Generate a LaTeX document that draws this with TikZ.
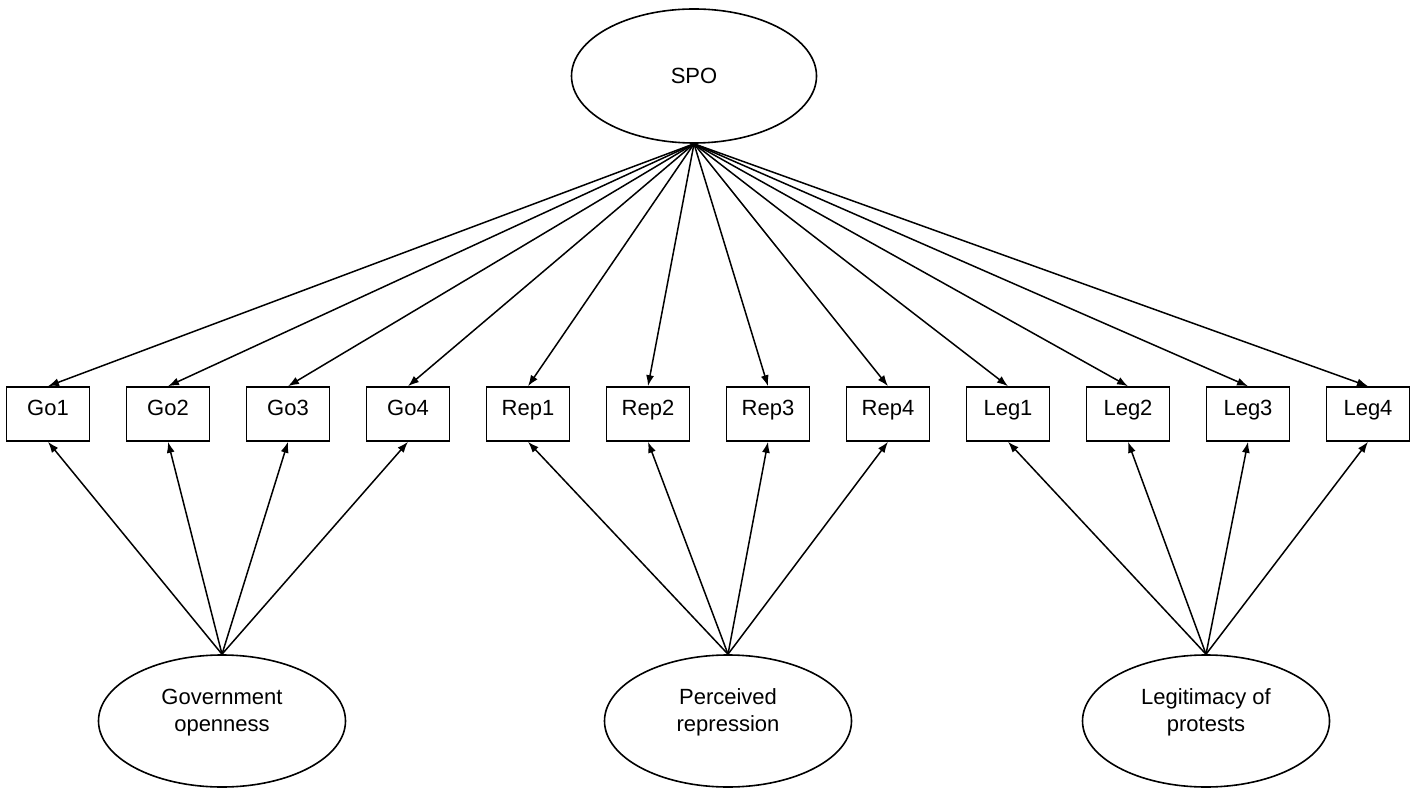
\documentclass[tikz,border=0pt]{standalone}
\usepackage{fontspec}
\setmainfont{Liberation Sans}
\usepackage{tikz}
\usetikzlibrary{shapes.geometric}
\usetikzlibrary{arrows.meta}
\tikzstyle{latent}=[draw, ellipse, line width=0.8pt, inner sep=0, minimum width=123.5pt, minimum height=66pt, align=center, text depth=11pt]
\tikzstyle{spo}=[latent, minimum width=122.5pt, minimum height=67pt, text depth=0pt]
\tikzstyle{indicator}=[draw, rectangle, line width=0.8pt, inner sep=0, minimum width=41.5pt, minimum height=27pt, text height=8pt, text depth=6pt]
\tikzstyle{loading}=[line width=0.75pt, -{Latex[length=5.5pt, width=4pt]}]
\tikzstyle{semnetwork}=[x=0.5pt, y=-0.5pt,
                        % Same text size everywhere.
                        every node/.style={font=\fontsize{11}{13.5}\selectfont}]

\begin{document}
\begin{tikzpicture}[semnetwork]
        \useasboundingbox (0, 0) rectangle (1417, 801);
        \node[spo] (SPO) at (694, 76) {SPO};
        % Indicators.
        \node[indicator] (Go1) at (48, 414) {Go1};
        \node[indicator] (Go2) at (168, 414) {Go2};
        \node[indicator] (Go3) at (288, 414) {Go3};
        \node[indicator] (Go4) at (408, 414) {Go4};
        \node[indicator] (Rep1) at (528, 414) {Rep1};
        \node[indicator] (Rep2) at (648, 414) {Rep2};
        \node[indicator] (Rep3) at (768, 414) {Rep3};
        \node[indicator] (Rep4) at (888, 414) {Rep4};
        \node[indicator] (Leg1) at (1008, 414) {Leg1};
        \node[indicator] (Leg2) at (1128, 414) {Leg2};
        \node[indicator] (Leg3) at (1248, 414) {Leg3};
        \node[indicator] (Leg4) at (1368, 414) {Leg4};
        % Factors.
        \node[latent] (Gov) at (222, 721) {Government\\openness};
        \node[latent] (Rep) at (728, 721) {Perceived\\repression};
        \node[latent] (Leg) at (1206, 721) {Legitimacy of\\protests};
        \draw[loading] (SPO.south) -- (Go1.north);
        \draw[loading] (SPO.south) -- (Go2.north);
        \draw[loading] (SPO.south) -- (Go3.north);
        \draw[loading] (SPO.south) -- (Go4.north);
        \draw[loading] (SPO.south) -- (Rep1.north);
        \draw[loading] (SPO.south) -- (Rep2.north);
        \draw[loading] (SPO.south) -- (Rep3.north);
        \draw[loading] (SPO.south) -- (Rep4.north);
        \draw[loading] (SPO.south) -- (Leg1.north);
        \draw[loading] (SPO.south) -- (Leg2.north);
        \draw[loading] (SPO.south) -- (Leg3.north);
        \draw[loading] (SPO.south) -- (Leg4.north);
        \draw[loading] (Gov.north) -- (Go1.south);
        \draw[loading] (Gov.north) -- (Go2.south);
        \draw[loading] (Gov.north) -- (Go3.south);
        \draw[loading] (Gov.north) -- (Go4.south);
        \draw[loading] (Rep.north) -- (Rep1.south);
        \draw[loading] (Rep.north) -- (Rep2.south);
        \draw[loading] (Rep.north) -- (Rep3.south);
        \draw[loading] (Rep.north) -- (Rep4.south);
        \draw[loading] (Leg.north) -- (Leg1.south);
        \draw[loading] (Leg.north) -- (Leg2.south);
        \draw[loading] (Leg.north) -- (Leg3.south);
        \draw[loading] (Leg.north) -- (Leg4.south);
    \end{tikzpicture}
\end{document}
